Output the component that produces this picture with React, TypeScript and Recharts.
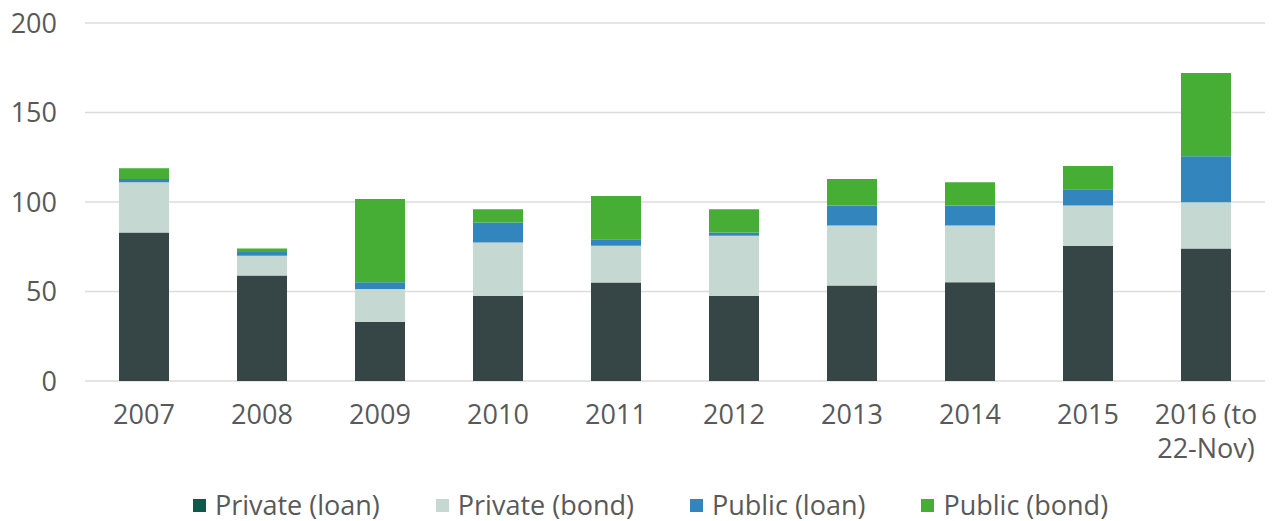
import { BarChart, Bar, XAxis, YAxis, CartesianGrid, Legend } from "recharts";

const years = ["2007", "2008", "2009", "2010", "2011", "2012", "2013", "2014", "2015", "2016 (to\n22-Nov)"];
const privateLoan = [83, 59, 33, 47.6, 55, 47.6, 53.3, 55.2, 75.6, 74];
const privateBond = [28, 11, 18.4, 29.8, 20.5, 33.6, 33.6, 31.7, 22.5, 25.8];
const publicLoan = [1.8, 2, 3.7, 11.2, 3.7, 1.8, 11.2, 11.2, 9, 25.7];
const publicBond = [6, 2, 46.6, 7.4, 24.2, 13, 14.7, 12.9, 13, 46.5];
const yTicks = [0, 50, 100, 150, 200];

const series = [
  { key: "privateLoan", name: "Private (loan)", fill: "#364646", swatch: "#0d5a4a" },
  { key: "privateBond", name: "Private (bond)", fill: "#c6d8d2", swatch: "#c6d8d2" },
  { key: "publicLoan", name: "Public (loan)", fill: "#3386bd", swatch: "#3386bd" },
  { key: "publicBond", name: "Public (bond)", fill: "#46ae34", swatch: "#46ae34" },
];

const data = years.map((year, i) => ({
  year,
  privateLoan: privateLoan[i],
  privateBond: privateBond[i],
  publicLoan: publicLoan[i],
  publicBond: publicBond[i],
}));

const FONT = "'Open Sans', sans-serif";
const TEXT = "#595959";

function YearTick(props: any) {
  const { x, y, payload } = props;
  const lines = String(payload.value).split("\n");
  return (
    <text x={x} y={y} textAnchor="middle" fill={TEXT} fontFamily={FONT} fontSize={27}>
      {lines.map((line, i) => (
        <tspan key={i} x={x} dy={34}>
          {line}
        </tspan>
      ))}
    </text>
  );
}

function LegendRow() {
  return (
    <div
      style={{
        display: "flex",
        justifyContent: "center",
        paddingLeft: 36,
        paddingTop: 13,
        fontFamily: FONT,
        fontSize: 27,
        color: TEXT,
        lineHeight: "30px",
        height: 30,
      }}
    >
      {series.map((s, i) => (
        <div
          key={s.key}
          style={{ display: "flex", alignItems: "center", marginLeft: i === 0 ? 0 : 56 }}
        >
          <span
            style={{ width: 13, height: 13, background: s.swatch, marginRight: 9, display: "inline-block" }}
          />
          <span>{s.name}</span>
        </div>
      ))}
    </div>
  );
}

export default function App() {
  return (
    <div style={{ position: "absolute", left: 0, top: 0, background: "#fff" }}>
      <BarChart
        width={1274}
        height={521}
        data={data}
        margin={{ top: 23, right: 9, left: 0, bottom: 0 }}
        barSize={50}
      >
        <CartesianGrid vertical={false} stroke="#dcdcdc" strokeWidth={1.5} />
        <XAxis
          dataKey="year"
          axisLine={false}
          tickLine={false}
          tickSize={0}
          tickMargin={9}
          height={96}
          interval={0}
          tick={<YearTick />}
        />
        <YAxis
          domain={[0, 200]}
          ticks={yTicks}
          width={85}
          axisLine={false}
          tickLine={false}
          tickSize={0}
          tickMargin={28}
          tick={{ fill: TEXT, fontFamily: FONT, fontSize: 27 }}
        />
        <Legend verticalAlign="bottom" height={44} content={() => <LegendRow />} />
        {series.map((s) => (
          <Bar
            key={s.key}
            dataKey={s.key}
            name={s.name}
            stackId="a"
            fill={s.fill}
            isAnimationActive={false}
          />
        ))}
      </BarChart>
    </div>
  );
}
